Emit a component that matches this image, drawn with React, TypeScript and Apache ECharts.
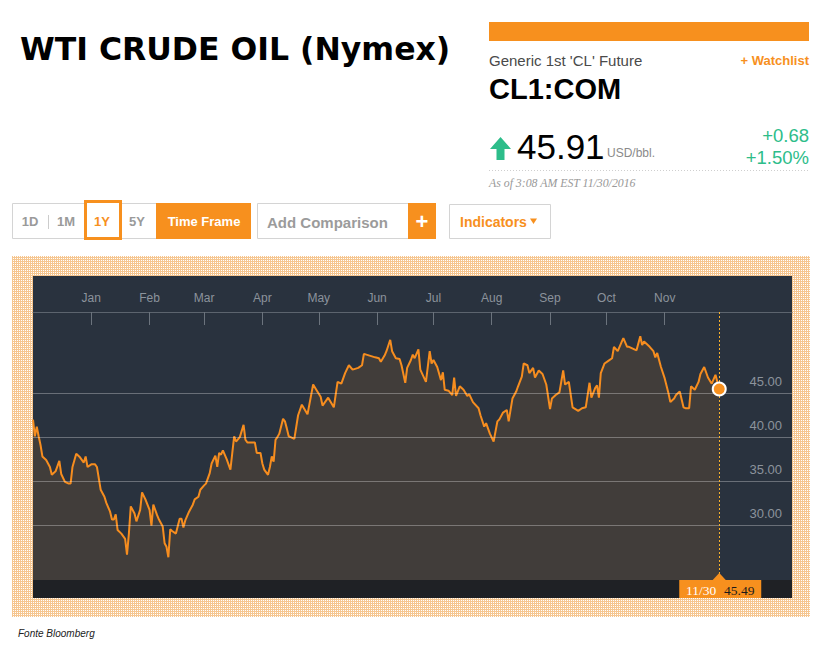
import React, { useEffect, useRef } from "react";
import * as echarts from "echarts";

// ---- data (WTI front-month, Dec 2015 – Nov 2016) ----
const dates: string[] = [
  "2015-12-01","2015-12-02","2015-12-03","2015-12-04","2015-12-05","2015-12-06","2015-12-08","2015-12-10","2015-12-11","2015-12-13","2015-12-15","2015-12-16","2015-12-18","2015-12-20","2015-12-21","2015-12-22","2015-12-24","2015-12-26","2015-12-28","2015-12-29","2015-12-30",
  "2016-01-01","2016-01-03","2016-01-04","2016-01-06","2016-01-08","2016-01-09","2016-01-11","2016-01-12","2016-01-13","2016-01-14","2016-01-15","2016-01-17","2016-01-19","2016-01-20","2016-01-21","2016-01-22","2016-01-24","2016-01-25","2016-01-27","2016-01-28","2016-01-30",
  "2016-02-01","2016-02-02","2016-02-03","2016-02-05","2016-02-06","2016-02-08","2016-02-09","2016-02-10","2016-02-11","2016-02-12","2016-02-13","2016-02-15","2016-02-17","2016-02-18","2016-02-19","2016-02-20","2016-02-22","2016-02-24","2016-02-25","2016-02-27","2016-02-28",
  "2016-03-01","2016-03-02","2016-03-04","2016-03-05","2016-03-07","2016-03-08","2016-03-09","2016-03-10","2016-03-11","2016-03-13","2016-03-15","2016-03-16","2016-03-17","2016-03-18","2016-03-20","2016-03-22","2016-03-23","2016-03-24","2016-03-26","2016-03-28","2016-03-29","2016-03-31",
  "2016-04-01","2016-04-02","2016-04-04","2016-04-05","2016-04-06","2016-04-07","2016-04-08","2016-04-09","2016-04-10","2016-04-12","2016-04-13","2016-04-14","2016-04-15","2016-04-16","2016-04-18","2016-04-20","2016-04-22","2016-04-25","2016-04-28","2016-04-30",
  "2016-05-02","2016-05-03","2016-05-06","2016-05-09","2016-05-11","2016-05-13","2016-05-15","2016-05-17","2016-05-19","2016-05-22","2016-05-24","2016-05-25","2016-05-28","2016-05-31",
  "2016-06-02","2016-06-03","2016-06-05","2016-06-06","2016-06-08","2016-06-09","2016-06-11","2016-06-13","2016-06-14","2016-06-16","2016-06-17","2016-06-19","2016-06-20","2016-06-21","2016-06-23","2016-06-24","2016-06-27","2016-06-29","2016-06-30",
  "2016-07-01","2016-07-03","2016-07-05","2016-07-06","2016-07-07","2016-07-09","2016-07-11","2016-07-12","2016-07-13","2016-07-15","2016-07-17","2016-07-19","2016-07-20","2016-07-22","2016-07-25","2016-07-26","2016-07-28","2016-07-29","2016-07-31",
  "2016-08-02","2016-08-04","2016-08-05","2016-08-07","2016-08-09","2016-08-10","2016-08-12","2016-08-14","2016-08-15","2016-08-17","2016-08-18","2016-08-20","2016-08-21","2016-08-23","2016-08-24","2016-08-26","2016-08-28","2016-08-30",
  "2016-09-01","2016-09-02","2016-09-04","2016-09-06","2016-09-08","2016-09-09","2016-09-11","2016-09-13","2016-09-16","2016-09-18","2016-09-20","2016-09-22","2016-09-23","2016-09-25","2016-09-26","2016-09-27","2016-09-28","2016-09-30",
  "2016-10-02","2016-10-04","2016-10-05","2016-10-07","2016-10-09","2016-10-10","2016-10-12","2016-10-13","2016-10-15","2016-10-17","2016-10-19","2016-10-20","2016-10-21","2016-10-24","2016-10-26","2016-10-27","2016-10-28","2016-10-30",
  "2016-11-01","2016-11-03","2016-11-04","2016-11-06","2016-11-07","2016-11-09","2016-11-11","2016-11-12","2016-11-14","2016-11-15","2016-11-17","2016-11-19","2016-11-20","2016-11-22","2016-11-24","2016-11-26","2016-11-28","2016-11-30",
];

const prices: number[] = [
  42.0,40.1,41.2,40.1,39.1,37.8,37.4,36.6,35.7,36.1,37.3,35.8,34.9,34.7,34.7,36.6,38.1,37.7,37.1,37.8,36.6,
  36.9,36.9,36.6,34.0,33.2,32.5,31.5,30.6,30.6,31.2,29.4,29.0,28.4,26.6,29.0,32.1,31.3,30.4,31.7,33.7,32.8,
  31.7,29.9,32.3,31.1,30.6,29.8,27.9,27.5,26.3,29.5,29.3,29.0,30.7,30.7,29.7,30.5,31.5,32.3,32.9,33.2,34.0,
  34.5,34.7,35.9,37.0,37.9,36.6,38.2,38.0,38.5,37.5,36.3,38.2,40.1,39.5,40.0,41.4,39.7,39.4,39.4,39.4,38.2,38.2,
  37.0,36.3,35.7,36.6,37.8,37.2,39.7,40.0,40.4,42.1,41.8,41.0,40.1,40.0,39.8,42.5,43.7,42.6,46.0,45.3,
  44.6,43.6,44.5,43.4,46.3,46.1,47.3,48.2,47.7,47.9,48.2,49.5,49.3,49.1,
  49.0,48.6,49.3,49.8,51.1,49.8,49.0,48.9,48.2,46.2,47.9,48.8,49.4,49.0,50.0,47.7,46.3,49.8,48.4,
  48.8,48.0,46.5,47.4,45.4,45.3,44.8,46.8,44.7,45.8,45.4,44.7,44.9,44.0,43.3,42.5,41.2,41.6,40.4,
  39.5,41.8,42.0,42.8,43.1,41.8,44.4,45.2,45.8,46.9,48.4,48.2,47.3,47.9,46.8,47.6,47.2,46.0,
  43.2,44.4,44.8,45.1,47.6,46.0,46.3,43.4,43.0,43.3,43.4,46.2,44.5,45.6,45.9,44.5,47.3,48.4,
  48.7,49.0,50.3,49.8,50.8,51.3,50.3,50.3,50.1,49.9,51.5,50.5,50.9,50.3,49.8,49.1,49.6,48.0,
  46.7,45.0,44.0,44.4,44.8,45.2,43.4,43.3,43.3,45.8,45.4,46.3,47.2,48.0,46.8,46.1,47.1,45.49,
];

const gridValues: number[] = [30, 35, 40, 45];
const monthStarts: string[] = [
  "2016-01-01","2016-02-01","2016-03-01","2016-04-01","2016-05-01","2016-06-01",
  "2016-07-01","2016-08-01","2016-09-01","2016-10-01","2016-11-01",
];
const monthNames: string[] = ["Jan","Feb","Mar","Apr","May","Jun","Jul","Aug","Sep","Oct","Nov","Dec"];
const firstDate = "2015-12-01";
const lastDate = "2016-11-30";
const lastPrice = 45.49;

// header texts
const titleText = "WTI CRUDE OIL (Nymex)";
const subtitleText = "Generic 1st 'CL' Future";
const tickerText = "CL1:COM";
const priceText = "45.91";
const unitText = "USD/bbl.";
const changeText = "+0.68";
const changePctText = "+1.50%";
const asOfText = "As of 3:08 AM EST 11/30/2016";
const rangeButtons: string[] = ["1D", "1M", "1Y", "5Y"];
const sourceText = "Fonte Bloomberg";

// ---- layout / style ----
const FONT = "'Liberation Sans', Arial, sans-serif";
const SERIF = "'Liberation Serif', 'DejaVu Serif', serif";
const ORANGE = "#f7901e";
const LINE = "#f68d1f";
const GREEN = "#2dbd8a";
const DAY = 86400000;
const Y_MIN = 23.71;
const Y_MAX = 54.27;
const X_SPAN_DAYS = 403.7;

const ts = (s: string) => {
  const [y, m, d] = s.split("-").map(Number);
  return Date.UTC(y, m - 1, d);
};
// days elapsed since the first date of the window
const dayOf = (s: string) => Math.round((ts(s) - ts(firstDate)) / DAY);
const monthLabel = (day: number) => monthNames[new Date(ts(firstDate) + day * DAY + DAY / 2).getUTCMonth()];

const txt = (text: string, x: number, y: number, o: any = {}) => ({
  type: "text",
  x,
  y,
  z: 10,
  style: {
    text,
    fill: o.fill || "#000",
    fontSize: o.size || 12,
    fontWeight: o.weight || "normal",
    fontStyle: o.style || "normal",
    fontFamily: o.family || FONT,
    align: o.align || "left",
    verticalAlign: "middle",
  },
});

function buildGraphic(tagX: number, stripY: number, topY: number) {
  const btnCenters = [30, 66, 102, 137];
  const els: any[] = [
    txt(titleText, 20, 49, { size: 31.5, weight: "bold", family: "'DejaVu Sans', sans-serif" }),
    { type: "rect", shape: { x: 489, y: 22, width: 320, height: 19 }, style: { fill: ORANGE } },
    txt(subtitleText, 489, 60, { size: 15, fill: "#4a4a4a" }),
    txt("+ Watchlist", 809, 60, { size: 13, weight: "bold", fill: ORANGE, align: "right" }),
    txt(tickerText, 489, 89, { size: 29, weight: "bold", fill: "#000" }),
    {
      type: "polygon",
      shape: { points: [[500.5, 137], [511, 149], [504.5, 149], [504.5, 160], [496.5, 160], [496.5, 149], [490, 149]] },
      style: { fill: GREEN },
    },
    txt(priceText, 517, 146, { size: 35, fill: "#000" }),
    txt(unitText, 607, 153, { size: 12, fill: "#8a8a8a" }),
    txt(changeText, 809, 135, { size: 18.5, fill: GREEN, align: "right" }),
    txt(changePctText, 809, 157, { size: 18.5, fill: GREEN, align: "right" }),
    { type: "line", shape: { x1: 489, y1: 170.5, x2: 809, y2: 170.5 }, style: { stroke: "#cfcfcf", lineWidth: 1, lineDash: [1, 2] } },
    txt(asOfText, 489, 183, { size: 11.8, fill: "#999", style: "italic", family: SERIF }),

    // button row
    { type: "rect", shape: { x: 12.5, y: 203.5, width: 144, height: 35 }, style: { fill: "#fff", stroke: "#d4d4d4", lineWidth: 1 } },
    { type: "line", shape: { x1: 48.5, y1: 215, x2: 48.5, y2: 229 }, style: { stroke: "#cccccc", lineWidth: 1 } },
    { type: "rect", shape: { x: 85.5, y: 201.5, width: 35, height: 37 }, style: { fill: "#fff", stroke: ORANGE, lineWidth: 3 } },
    { type: "rect", shape: { x: 156, y: 203, width: 95, height: 36 }, style: { fill: ORANGE } },
    txt("Time Frame", 204, 221, { size: 13, weight: "bold", fill: "#fff", align: "center" }),
    { type: "rect", shape: { x: 257.5, y: 203.5, width: 151, height: 35 }, style: { fill: "#fff", stroke: "#d4d4d4", lineWidth: 1 } },
    txt("Add Comparison", 267, 222, { size: 15, weight: "bold", fill: "#9b9b9b" }),
    { type: "rect", shape: { x: 408, y: 203, width: 28, height: 36 }, style: { fill: ORANGE } },
    txt("+", 422, 221, { size: 22, weight: "bold", fill: "#fff", align: "center" }),
    { type: "rect", shape: { x: 449.5, y: 204.5, width: 101, height: 34 }, style: { fill: "#fff", stroke: "#d4d4d4", lineWidth: 1 } },
    txt("Indicators", 460, 222, { size: 14, weight: "bold", fill: ORANGE }),
    { type: "polygon", shape: { points: [[530, 218.5], [537, 218.5], [533.5, 224]] }, style: { fill: ORANGE } },

    txt(sourceText, 18, 633, { size: 10, style: "italic", fill: "#222" }),
  ];
  rangeButtons.forEach((b, i) => {
    els.push(txt(b, btnCenters[i], 221, { size: 13, weight: "bold", fill: b === "1Y" ? ORANGE : "#9a9a9a", align: "center" }));
  });

  // dotted cursor line at the last date
  const cx = Math.round(tagX) + 0.5;
  els.push({
    type: "line",
    z: 15,
    shape: { x1: cx, y1: topY, x2: cx, y2: stripY },
    style: { stroke: "#f7b02c", lineWidth: 1, lineDash: [2, 2] },
  });

  // last value tag on the bottom strip
  const [, mm, dd] = lastDate.split("-");
  els.push(
    { type: "polygon", z: 20, shape: { points: [[tagX - 7, stripY + 0.5], [tagX, stripY - 7], [tagX + 7, stripY + 0.5]] }, style: { fill: ORANGE } },
    { type: "rect", z: 20, shape: { x: tagX - 40, y: stripY, width: 82, height: 18 }, style: { fill: ORANGE } },
    { ...txt(`${mm}/${dd}`, tagX - 18, stripY + 10, { size: 13.5, fill: "#fff", family: SERIF, align: "center" }), z: 21 },
    { ...txt(lastPrice.toFixed(2), tagX + 20, stripY + 10, { size: 13.5, fill: "#1a1a1a", family: SERIF, align: "center" }), z: 21 },
  );
  return els;
}

export default function App() {
  const ref = useRef<HTMLDivElement>(null);

  useEffect(() => {
    if (!ref.current) return;
    const chart = echarts.init(ref.current, null, { renderer: "svg" });
    const monthDays = monthStarts.map(dayOf);
    const seriesData = dates.map((d, i) => [dayOf(d), prices[i]]);
    const lastDay = dayOf(lastDate);

    chart.setOption({
      animation: false,
      backgroundColor: "transparent",
      grid: { left: 33, top: 312, width: 759, height: 268, containLabel: false },
      xAxis: {
        type: "value",
        position: "top",
        min: 0,
        max: X_SPAN_DAYS,
        axisLine: { show: true, lineStyle: { color: "#5c646e", width: 1 } },
        axisTick: { show: true, inside: true, length: 13, customValues: monthDays, lineStyle: { color: "#6b737d", width: 1 } },
        axisLabel: {
          customValues: monthDays,
          formatter: (v: number) => monthLabel(v),
          color: "#8c939c",
          fontSize: 12,
          fontFamily: FONT,
          margin: 8,
        },
        splitLine: { show: false },
      },
      yAxis: {
        type: "value",
        min: Y_MIN,
        max: Y_MAX,
        show: false,
        splitLine: { show: false },
      },
      series: [
        {
          type: "line",
          data: seriesData,
          symbol: "none",
          lineStyle: { color: LINE, width: 2 },
          areaStyle: { color: "rgba(247,147,30,0.17)", origin: "start" },
          silent: true,
          markLine: {
            silent: true,
            symbol: ["none", "none"],
            lineStyle: { color: "rgba(255,255,255,0.3)", type: "solid", width: 1 },
            label: {
              show: true,
              position: "insideEndTop",
              formatter: (p: any) => Number(p.value).toFixed(2),
              color: "#8c939c",
              fontSize: 13,
              fontFamily: FONT,
              distance: [10, 5],
            },
            data: gridValues.map((v) => ({ yAxis: v })),
          },
          markPoint: {
            silent: true,
            symbol: "circle",
            symbolSize: 13,
            z: 30,
            itemStyle: { color: ORANGE, borderColor: "#ffffff", borderWidth: 2 },
            label: { show: false },
            data: [{ coord: [lastDay, lastPrice] }],
          },
        },
      ],
    });

    const p = chart.convertToPixel({ gridIndex: 0 }, [lastDay, lastPrice]) as number[];
    const stripY = chart.convertToPixel({ yAxisIndex: 0 }, Y_MIN) as number;
    const topY = chart.convertToPixel({ yAxisIndex: 0 }, Y_MAX) as number;
    chart.setOption({ graphic: buildGraphic(p[0], stripY, topY) });

    return () => chart.dispose();
  }, []);

  return (
    <div style={{ position: "absolute", left: 0, top: 0, width: 831, height: 645, background: "#fff", overflow: "hidden" }}>
      <div
        style={{
          position: "absolute",
          left: 12,
          top: 256,
          width: 798,
          height: 361,
          backgroundColor: "#f6c690",
          backgroundImage: "conic-gradient(#ffffff 0 25%, transparent 0 100%)",
          backgroundSize: "2px 2px",
        }}
      />
      <div style={{ position: "absolute", left: 33, top: 276, width: 759, height: 322, background: "#29323e" }} />
      <div style={{ position: "absolute", left: 33, top: 580, width: 759, height: 18, background: "#1f2125" }} />
      <div ref={ref} style={{ position: "absolute", left: 0, top: 0, width: 831, height: 645 }} />
    </div>
  );
}
